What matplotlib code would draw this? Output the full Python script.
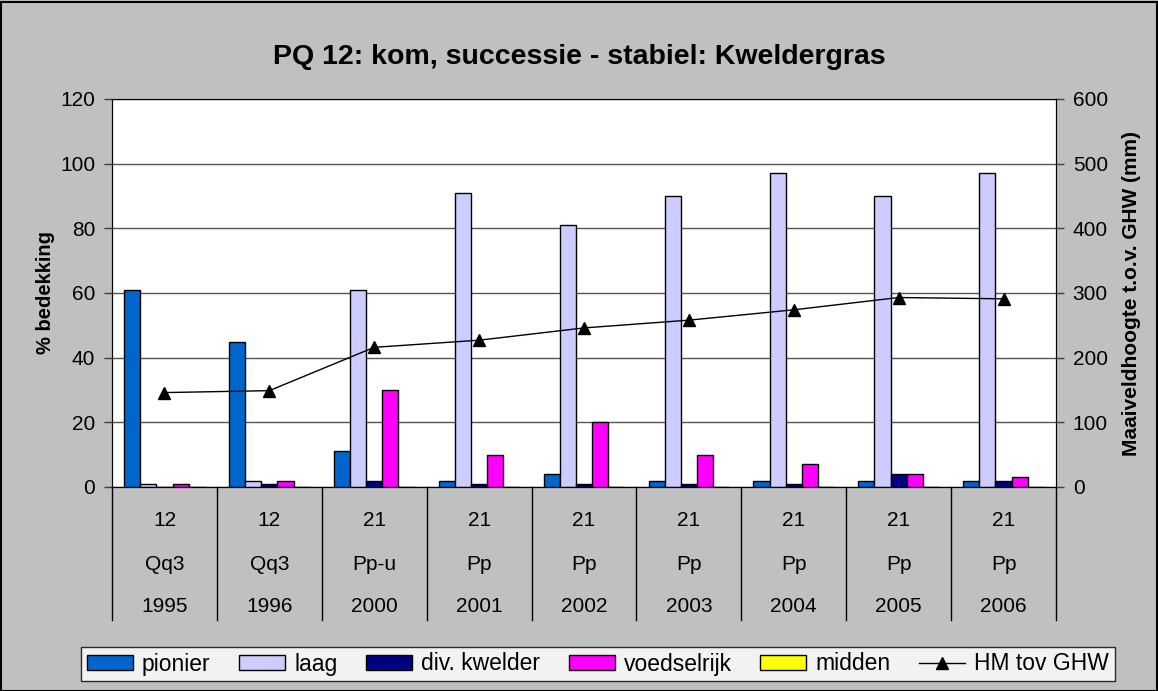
import matplotlib
matplotlib.use("Agg")
import matplotlib.pyplot as plt
import matplotlib.patches as mpatches
import numpy as np

plt.rcParams['font.family'] = ['Liberation Sans', 'DejaVu Sans']

# data
jaren = ['1995', '1996', '2000', '2001', '2002', '2003', '2004', '2005', '2006']
codes = ['12', '12', '21', '21', '21', '21', '21', '21', '21']
typen = ['Qq3', 'Qq3', 'Pp-u', 'Pp', 'Pp', 'Pp', 'Pp', 'Pp', 'Pp']

pionier = [61, 45, 11, 2, 4, 2, 2, 2, 2]
laag = [1, 2, 61, 91, 81, 90, 97, 90, 97]
div_kwelder = [0, 1, 2, 1, 1, 1, 1, 4, 2]
voedselrijk = [1, 2, 30, 10, 20, 10, 7, 4, 3]
midden = [0, 0, 0, 0, 0, 0, 0, 0, 0]
hm_ghw = [146, 149, 216, 227, 246, 258, 274, 293, 291]

series = [
    ('pionier', pionier, '#0066CC'),
    ('laag', laag, '#CCCCFF'),
    ('div. kwelder', div_kwelder, '#000080'),
    ('voedselrijk', voedselrijk, '#FF00FF'),
    ('midden', midden, '#FFFF00'),
]

W, H = 1158, 691
fig = plt.figure(figsize=(W / 100, H / 100), dpi=100)
fig.patch.set_facecolor('#C0C0C0')
fig.patches.append(mpatches.Rectangle((0.5 / W, 0.5 / H), 1 - 2 / W, 1 - 2 / H,
                                      transform=fig.transFigure, fill=False,
                                      edgecolor='black', linewidth=1.5))

left, right, top, bottom = 112, 1056, 99, 487
ax = fig.add_axes([left / W, (H - bottom) / H, (right - left) / W, (bottom - top) / H])
ax.set_facecolor('white')

x = np.arange(len(jaren))
w = 1 / 6.5
handles = []
for i, (naam, vals, kleur) in enumerate(series):
    b = ax.bar(x - 2 * w + i * w, vals, width=w, color=kleur, edgecolor='black',
               linewidth=1, label=naam, zorder=3)
    handles.append(b)

ax.set_xlim(-0.5, len(jaren) - 0.5)
ax.set_ylim(0, 120)
ax.set_yticks(range(0, 121, 20))
ax.yaxis.grid(True, color='#555555', linewidth=1)
ax.set_axisbelow(True)
ax.set_xticks([])
ax.tick_params(axis='y', labelsize=15, length=6, width=1, color='#404040', pad=6)
ax.set_ylabel('% bedekking', fontsize=14.5, fontweight='bold', labelpad=4)
ax.spines['top'].set_color('#808080')
for s in ['left', 'right', 'bottom']:
    ax.spines[s].set_color('black')

ax2 = ax.twinx()
ln, = ax2.plot(x, hm_ghw, color='black', linewidth=1, marker='^', markersize=9,
               label='HM tov GHW', zorder=5)
ax2.set_ylim(0, 600)
ax2.set_yticks(range(0, 601, 100))
ax2.tick_params(axis='y', labelsize=15, length=6, width=1, color='#404040', pad=6)
ax2.set_ylabel('Maaiveldhoogte t.o.v. GHW (mm)', fontsize=15, fontweight='bold',
               labelpad=10)

# category labels in three rows
trans = ax.get_xaxis_transform()
ah = bottom - top
for i in range(len(jaren)):
    ax.text(i, -33 / ah, codes[i], transform=trans, ha='center', va='center', fontsize=15)
    ax.text(i, -77 / ah, typen[i], transform=trans, ha='center', va='center', fontsize=15)
    ax.text(i, -120 / ah, jaren[i], transform=trans, ha='center', va='center', fontsize=15)
for xb in np.arange(-0.5, len(jaren), 1.0):
    ax.plot([xb, xb], [0, -133 / ah], transform=trans, color='black', linewidth=1,
            clip_on=False)

fig.suptitle('PQ 12: kom, successie - stabiel: Kweldergras', y=1 - 57 / H,
             va='center', fontsize=20.5, fontweight='bold')

leg = fig.legend(handles + [ln], [s[0] for s in series] + ['HM tov GHW'],
                 loc='center', bbox_to_anchor=(598 / W, (H - 664) / H), ncol=6,
                 fontsize=16.5, frameon=True, fancybox=False, edgecolor='black',
                 handlelength=2.0, handleheight=0.6, handletextpad=0.4,
                 columnspacing=1.25, borderpad=0.25, borderaxespad=0)
leg.get_frame().set_linewidth(1)

fig.savefig('out.png', dpi=100, facecolor=fig.get_facecolor())
